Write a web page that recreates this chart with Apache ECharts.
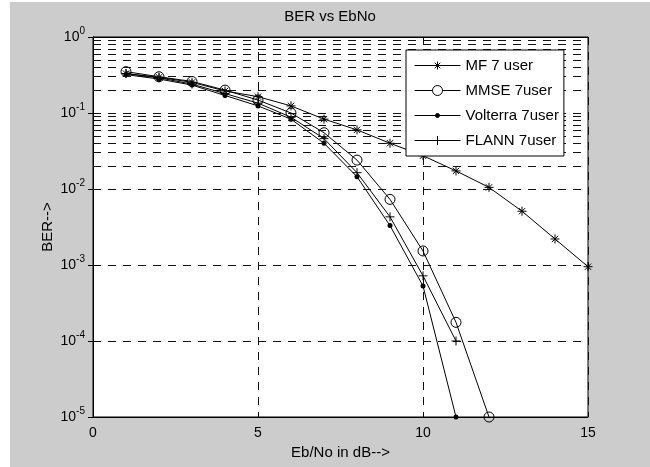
<!DOCTYPE html>
<html>
<head>
<meta charset="utf-8">
<title>BER vs EbNo</title>
<script src="https://cdn.jsdelivr.net/npm/echarts@6/dist/echarts.min.js"></script>
<style>
  html, body { margin: 0; padding: 0; background: #fff; }
  #chart { position: absolute; left: 10px; top: 2px; width: 640px; height: 465px; }
</style>
</head>
<body>
<div id="chart"></div>
<script>
// Eb/No (dB) points
var ebno = [1, 2, 3, 4, 5, 6, 7, 8, 9, 10, 11, 12, 13, 14, 15];

// BER values
var berMF = [0.33, 0.295, 0.253, 0.195, 0.164, 0.124, 0.083, 0.060, 0.040, 0.0274, 0.0173, 0.0105, 0.0051, 0.0022, 0.00095];
var berMMSE = [0.35, 0.30, 0.26, 0.20, 0.148, 0.10, 0.055, 0.024, 0.0073, 0.00153, 0.000176, 0.00001];
var berVolterra = [0.32, 0.28, 0.233, 0.17, 0.124, 0.083, 0.040, 0.0145, 0.0033, 0.00053, 0.00001];
var berFLANN = [0.33, 0.29, 0.24, 0.18, 0.135, 0.088, 0.046, 0.0164, 0.0043, 0.00072, 0.0001];

var seriesNames = ['MF 7 user', 'MMSE 7user', 'Volterra 7user', 'FLANN 7user'];

// minor grid lines of the log axis (2..9 in each decade)
var minorGrid = [];
for (var k = -5; k < 0; k++) {
	for (var m = 2; m <= 9; m++) {
		minorGrid.push({ yAxis: m * Math.pow(10, k) });
	}
}

var starPath = 'path://M0,-1L0,1M-1,0L1,0M-0.7,-0.7L0.7,0.7M-0.7,0.7L0.7,-0.7';
var plusPath = 'path://M0,-1L0,1M-1,0L1,0';
var fontFam = '"Liberation Sans", Arial, Helvetica, sans-serif';
var dash = [8, 7];
var gridColor = '#111';

// legend icons: matlab style line with marker in the middle
var legendIcons = [
	'path://M0,7L46,7M23,3L23,11M19,7L27,7M20.2,4.2L25.8,9.8M20.2,9.8L25.8,4.2',
	'path://M0,7L18,7M28,7L46,7M28,7A5,5 0 1 1 18,7A5,5 0 1 1 28,7',
	'path://M0,7L46,7M25,7A2,2 0 1 1 21,7A2,2 0 1 1 25,7',
	'path://M0,7L46,7M23,2.5L23,11.5M18.5,7L27.5,7'
];
var legendFills = ['#000', 'rgba(0,0,0,0)', '#000', '#000'];

function pairs(xs, ys) {
	return ys.map(function (v, i) { return [xs[i], v]; });
}

var myChart = echarts.init(document.getElementById('chart'));

var option = {
	animation: false,
	backgroundColor: '#cccccc',
	textStyle: { fontFamily: fontFam, color: '#000' },
	title: {
		text: 'BER vs EbNo',
		left: 'center',
		top: 7,
		padding: 0,
		textStyle: { fontSize: 15, fontWeight: 'normal', color: '#000', fontFamily: fontFam }
	},
	legend: {
		orient: 'vertical',
		left: 396,
		top: 48,
		z: 20,
		padding: [8, 5, 8, 8],
		itemWidth: 46,
		itemHeight: 14,
		itemGap: 10,
		backgroundColor: '#fff',
		borderColor: '#000',
		borderWidth: 1,
		borderRadius: 0,
		textStyle: { fontSize: 15, color: '#000', fontFamily: fontFam },
		data: seriesNames.map(function (n, i) {
			return {
				name: n,
				icon: legendIcons[i],
				itemStyle: { color: legendFills[i], borderColor: '#000', borderWidth: 1 }
			};
		})
	},
	grid: {
		left: 83,
		right: 62,
		top: 35,
		bottom: 50,
		show: true,
		backgroundColor: '#fff',
		borderColor: '#000',
		borderWidth: 1
	},
	xAxis: [{
			type: 'value',
			min: 0,
			max: 15,
			interval: 5,
			name: 'Eb/No in dB-->',
			nameLocation: 'middle',
			nameGap: 28,
			nameTextStyle: { fontSize: 15, color: '#000' },
			axisLine: { show: true, lineStyle: { color: '#000' } },
			axisTick: { show: true, inside: true, length: 5, lineStyle: { color: '#000' } },
			axisLabel: { fontSize: 14, color: '#000', margin: 9 },
			splitLine: { show: true, lineStyle: { color: gridColor, type: dash, width: 1 } }
		},
		{
			// top edge ticks only
			type: 'value',
			position: 'top',
			min: 0,
			max: 15,
			interval: 5,
			axisLine: { show: true, lineStyle: { color: '#000' } },
			axisTick: { show: true, inside: true, length: 5, lineStyle: { color: '#000' } },
			axisLabel: { show: false },
			splitLine: { show: false }
		}
	],
	yAxis: [{
			type: 'log',
			logBase: 10,
			min: 1e-5,
			max: 1,
			name: 'BER-->',
			nameLocation: 'middle',
			nameGap: 38,
			nameMoveOverlap: false,
			nameTextStyle: { fontSize: 15, color: '#000' },
			axisLine: { show: true, lineStyle: { color: '#000' } },
			axisTick: { show: true, inside: true, length: 5, lineStyle: { color: '#000' } },
			axisLabel: {
				margin: 8,
				formatter: function (v) {
					var e = Math.round(Math.log10(v));
					return '{b|10}{s|' + e + '}';
				},
				rich: {
					b: { fontSize: 14, lineHeight: 22, color: '#000', fontFamily: fontFam },
					s: { fontSize: 10, lineHeight: 12, verticalAlign: 'top', color: '#000', fontFamily: fontFam }
				}
			},
			splitLine: { show: true, lineStyle: { color: gridColor, type: dash, width: 1 } }
		},
		{
			// right edge ticks only
			type: 'log',
			logBase: 10,
			min: 1e-5,
			max: 1,
			position: 'right',
			axisLine: { show: true, lineStyle: { color: '#000' } },
			axisTick: { show: true, inside: true, length: 5, lineStyle: { color: '#000' } },
			axisLabel: { show: false },
			splitLine: { show: false }
		}
	],
	series: [{
			name: seriesNames[0],
			type: 'line',
			data: pairs(ebno, berMF),
			symbol: starPath,
			symbolSize: 9,
			showAllSymbol: true,
			lineStyle: { color: '#000', width: 1 },
			itemStyle: { color: '#000', borderColor: '#000', borderWidth: 1 },
			markLine: {
				silent: true,
				symbol: ['none', 'none'],
				label: { show: false },
				lineStyle: { color: gridColor, type: dash, width: 1 },
				data: minorGrid
			}
		},
		{
			name: seriesNames[1],
			type: 'line',
			data: pairs(ebno, berMMSE),
			symbol: 'circle',
			symbolSize: 10,
			showAllSymbol: true,
			lineStyle: { color: '#000', width: 1 },
			itemStyle: { color: 'rgba(0,0,0,0)', borderColor: '#000', borderWidth: 1 }
		},
		{
			name: seriesNames[2],
			type: 'line',
			data: pairs(ebno, berVolterra),
			symbol: 'circle',
			symbolSize: 5,
			showAllSymbol: true,
			lineStyle: { color: '#000', width: 1 },
			itemStyle: { color: '#000' }
		},
		{
			name: seriesNames[3],
			type: 'line',
			data: pairs(ebno, berFLANN),
			symbol: plusPath,
			symbolSize: 9,
			showAllSymbol: true,
			lineStyle: { color: '#000', width: 1 },
			itemStyle: { color: '#000', borderColor: '#000', borderWidth: 1 }
		}
	]
};

option && myChart.setOption(option);
</script>
</body>
</html>
